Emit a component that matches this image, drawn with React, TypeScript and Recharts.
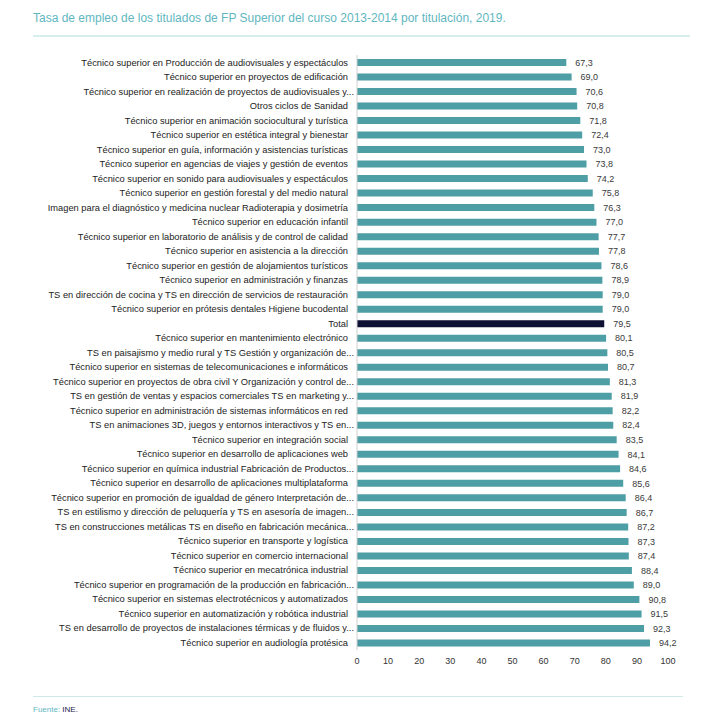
import React from "react";
import { BarChart, Bar, XAxis, YAxis, Cell, LabelList } from "recharts";

const categories: string[] = [
  "Técnico superior en Producción de audiovisuales y espectáculos",
  "Técnico superior en proyectos de edificación",
  "Técnico superior en realización de proyectos de audiovisuales y...",
  "Otros ciclos de Sanidad",
  "Técnico superior en animación sociocultural y turística",
  "Técnico superior en estética integral y bienestar",
  "Técnico superior en guía, información y asistencias turísticas",
  "Técnico superior en agencias de viajes y gestión de eventos",
  "Técnico superior en sonido para audiovisuales y espectáculos",
  "Técnico superior en gestión forestal y del medio natural",
  "Imagen para el diagnóstico y medicina nuclear Radioterapia y dosimetría",
  "Técnico superior en educación infantil",
  "Técnico superior en laboratorio de análisis y de control de calidad",
  "Técnico superior en asistencia a la dirección",
  "Técnico superior en gestión de alojamientos turísticos",
  "Técnico superior en administración y finanzas",
  "TS en dirección de cocina y TS en dirección de servicios de restauración",
  "Técnico superior en prótesis dentales Higiene bucodental",
  "Total",
  "Técnico superior en mantenimiento electrónico",
  "TS en paisajismo y medio rural y TS Gestión y organización de...",
  "Técnico superior en sistemas de telecomunicaciones e informáticos",
  "Técnico superior en proyectos de obra civil Y Organización y control de...",
  "TS en gestión de ventas y espacios comerciales TS en marketing y...",
  "Técnico superior en administración de sistemas informáticos en red",
  "TS en animaciones 3D, juegos y entornos interactivos y TS en...",
  "Técnico superior en integración social",
  "Técnico superior en desarrollo de aplicaciones web",
  "Técnico superior en química industrial Fabricación de Productos...",
  "Técnico superior en desarrollo de aplicaciones multiplataforma",
  "Técnico superior en promoción de igualdad de género Interpretación de...",
  "TS en estilismo y dirección de peluquería y TS en asesoría de imagen...",
  "TS en construcciones metálicas TS en diseño en fabricación mecánica...",
  "Técnico superior en transporte y logística",
  "Técnico superior en comercio internacional",
  "Técnico superior en mecatrónica industrial",
  "Técnico superior en programación de la producción en fabricación...",
  "Técnico superior en sistemas electrotécnicos y automatizados",
  "Técnico superior en automatización y robótica industrial",
  "TS en desarrollo de proyectos de instalaciones térmicas y de fluidos y...",
  "Técnico superior en audiología protésica",
];

const values: number[] = [
  67.3, 69.0, 70.6, 70.8, 71.8, 72.4, 73.0, 73.8, 74.2, 75.8,
  76.3, 77.0, 77.7, 77.8, 78.6, 78.9, 79.0, 79.0, 79.5, 80.1,
  80.5, 80.7, 81.3, 81.9, 82.2, 82.4, 83.5, 84.1, 84.6, 85.6,
  86.4, 86.7, 87.2, 87.3, 87.4, 88.4, 89.0, 90.8, 91.5, 92.3,
  94.2,
];

const xTicks: number[] = [0, 10, 20, 30, 40, 50, 60, 70, 80, 90, 100];

const data = categories.map((name, i) => ({ name, value: values[i] }));

const FONT = "'Liberation Sans', Arial, sans-serif";

const CategoryTick = (props: any) => {
  const { x, y, payload } = props;
  const truncated = String(payload.value).endsWith("...");
  return (
    <text
      x={x + (truncated ? 5 : -1)}
      y={y}
      dy="0.35em"
      textAnchor="end"
      fontSize={9.3}
      fill="#222"
      fontFamily={FONT}
    >
      {payload.value}
    </text>
  );
};

export default function App() {
  return (
    <div style={{ position: "absolute", left: 0, top: 0, width: 722, height: 728, background: "#fff", fontFamily: FONT }}>
      <div style={{ position: "absolute", left: 33, top: 11, fontSize: 12, color: "#5fb7bf", whiteSpace: "nowrap" }}>
        Tasa de empleo de los titulados de FP Superior del curso 2013-2014 por titulación, 2019.
      </div>
      <div style={{ position: "absolute", left: 33, top: 35, width: 657, height: 2, background: "#d6eeee" }} />
      <div style={{ position: "absolute", left: 0, top: 0 }}>
        <BarChart
          width={722}
          height={680}
          data={data}
          layout="vertical"
          margin={{ top: 55, right: 54, bottom: 10, left: 0 }}
          barCategoryGap={0}
        >
          <XAxis
            type="number"
            domain={[0, 100]}
            ticks={xTicks}
            axisLine={false}
            tickLine={false}
            interval={0}
            height={20}
            tick={{ fontSize: 9, fill: "#333", fontFamily: FONT }}
          />
          <YAxis
            type="category"
            dataKey="name"
            width={357}
            interval={0}
            tickLine={false}
            axisLine={{ stroke: "#d0d0d0" }}
            tick={<CategoryTick />}
          />
          <Bar dataKey="value" barSize={7} isAnimationActive={false}>
            {data.map((d, i) => (
              <Cell key={i} fill={d.name === "Total" ? "#0e1133" : "#4e9ea5"} />
            ))}
            <LabelList
              dataKey="value"
              position="right"
              offset={9}
              formatter={(v: number) => v.toFixed(1).replace(".", ",")}
              style={{ fontSize: 9, fill: "#3a3a3a", fontFamily: FONT }}
            />
          </Bar>
        </BarChart>
      </div>
      <div style={{ position: "absolute", left: 33, top: 696, width: 650, height: 1, background: "#cdeaea" }} />
      <div style={{ position: "absolute", left: 33, top: 705, fontSize: 8, whiteSpace: "nowrap" }}>
        <span style={{ color: "#5fb7bf" }}>Fuente: </span>
        <span style={{ color: "#1a1d4a" }}>INE.</span>
      </div>
    </div>
  );
}
